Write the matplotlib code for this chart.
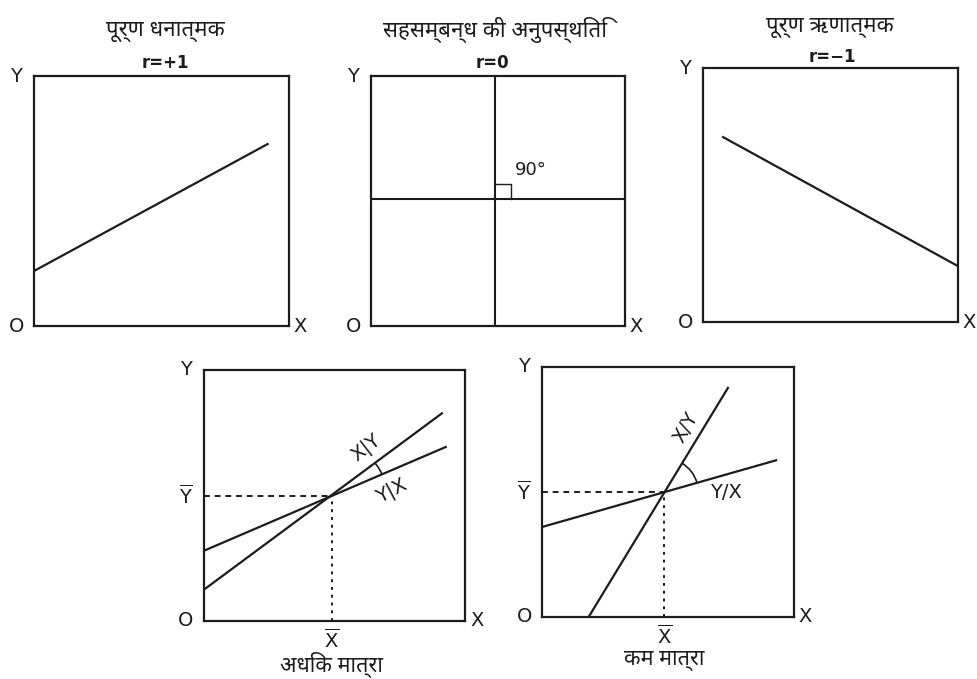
import matplotlib
matplotlib.use("Agg")
import matplotlib.pyplot as plt
from matplotlib.patches import Arc
import numpy as np

plt.rcParams["font.family"] = ["Noto Sans Devanagari", "Lohit Devanagari", "FreeSans",
                               "Noto Sans", "DejaVu Sans"]
plt.rcParams["mathtext.default"] = "regular"
INK = "#1c1c1c"

# titles and sub-captions
TITLES = ["पूर्ण धनात्मक", "सहसम्बन्ध की अनुपस्थिति", "पूर्ण ऋणात्मक"]
R_LABELS = ["r=+1", "r=0", "r=−1"]
CAPTIONS = ["अधिक मात्रा", "कम मात्रा"]

# top row lines (axis units 0..10)
pos_x = [0.0, 9.2]
pos_y = [2.2, 7.3]
neg_x = [0.75, 10.0]
neg_y = [7.3, 2.2]
zero_vx = 4.9      # vertical line of the r=0 panel
zero_hy = 5.1      # horizontal line of the r=0 panel

# bottom row: two regression lines meeting at the means
hi_mean = (4.9, 5.0)
hi_yx_x, hi_yx_y = [0.0, 9.3], [2.8, 6.95]
hi_xy_x, hi_xy_y = [0.0, 9.15], [1.25, 8.3]
lo_mean = (4.85, 5.0)
lo_yx_x, lo_yx_y = [0.0, 9.33], [3.6, 6.28]
lo_xy_x, lo_xy_y = [1.85, 7.4], [0.0, 9.2]

fig = plt.figure(figsize=(9.77, 6.79), dpi=100)
W, H = 977, 679


def panel(left, top, right, bottom):
    ax = fig.add_axes([left / W, 1 - bottom / H, (right - left) / W, (bottom - top) / H])
    ax.set_xlim(0, 10); ax.set_ylim(0, 10)
    ax.set_xticks([]); ax.set_yticks([])
    for s in ax.spines.values():
        s.set_linewidth(1.6); s.set_color(INK)
    ax.patch.set_alpha(0)
    return ax


def corner_labels(ax, dx=-0.07, size=14):
    kw = dict(transform=ax.transAxes, fontsize=size, color=INK, family="DejaVu Sans",
              ha="center", va="center")
    ax.text(dx, 1.0, "Y", **kw)
    ax.text(dx, 0.0, "O", **kw)
    ax.text(1.045, 0.0, "X", **kw)


def line(ax, x, y):
    ax.plot(x, y, color=INK, lw=1.6, solid_capstyle="butt", clip_on=False)


ax1 = panel(34, 76, 289, 326)
ax2 = panel(371, 76, 625, 326)
ax3 = panel(703, 68, 958, 322)
ax4 = panel(204, 370, 465, 621)
ax5 = panel(542, 367, 794, 617)

for ax in (ax1, ax2, ax3, ax4, ax5):
    corner_labels(ax)

line(ax1, pos_x, pos_y)
line(ax3, neg_x, neg_y)
ax2.axvline(zero_vx, color=INK, lw=1.5)
ax2.axhline(zero_hy, color=INK, lw=1.5)
ax2.plot([zero_vx, zero_vx + 0.62, zero_vx + 0.62], [zero_hy + 0.6, zero_hy + 0.6, zero_hy],
         color=INK, lw=1.0)
ax2.text(0.63, 0.625, "90°", transform=ax2.transAxes, fontsize=13, color=INK,
         family="DejaVu Sans", ha="center", va="center")

# top titles
for x, y, t in [(165, 32, TITLES[0]), (495, 30, TITLES[1]), (830, 27, TITLES[2])]:
    fig.text(x / W, 1 - y / H, t, ha="center", va="center", fontsize=16, color=INK)
for x, y, t in [(165, 63, R_LABELS[0]), (492, 63, R_LABELS[1]), (832, 57, R_LABELS[2])]:
    fig.text(x / W, 1 - y / H, t, ha="center", va="center", fontsize=12, color=INK,
             family="DejaVu Sans", weight="bold")


def regression(ax, mean, yx, xy, arc_r, caption):
    line(ax, *yx)
    line(ax, *xy)
    mx, my = mean
    ax.plot([0, mx], [my, my], color=INK, lw=1.4, ls=(0, (3, 2.5)))
    ax.plot([mx, mx], [0, my], color=INK, lw=1.4, ls=(0, (1.5, 2.5)))
    a1 = np.degrees(np.arctan2(yx[1][1] - yx[1][0], yx[0][1] - yx[0][0]))
    a2 = np.degrees(np.arctan2(xy[1][1] - xy[1][0], xy[0][1] - xy[0][0]))
    ax.add_patch(Arc((mx, my), 2 * arc_r, 2 * arc_r, theta1=a1, theta2=a2,
                     color=INK, lw=1.2))
    kw = dict(transform=ax.transAxes, fontsize=14, color=INK, family="DejaVu Sans",
              ha="center", va="center")
    ax.text(-0.07, my / 10, r"$\overline{Y}$", **kw)
    ax.text(mx / 10, -0.075, r"$\overline{X}$", **kw)
    ax.text(mx / 10, -0.175, caption, transform=ax.transAxes, fontsize=15.5, color=INK,
            ha="center", va="center")


regression(ax4, hi_mean, (hi_yx_x, hi_yx_y), (hi_xy_x, hi_xy_y), 2.1, CAPTIONS[0])
regression(ax5, lo_mean, (lo_yx_x, lo_yx_y), (lo_xy_x, lo_xy_y), 1.35, CAPTIONS[1])

lab = dict(fontsize=14, color=INK, family="DejaVu Sans", ha="center", va="center")
ax4.text(0.62, 0.69, "X|Y", transform=ax4.transAxes, rotation=38, **lab)
ax4.text(0.72, 0.52, "Y|X", transform=ax4.transAxes, rotation=28, **lab)
ax5.text(0.57, 0.76, "X/Y", transform=ax5.transAxes, rotation=60, **lab)
ax5.text(0.73, 0.50, "Y/X", transform=ax5.transAxes, **lab)

fig.savefig("out.png", dpi=100, facecolor="white")
